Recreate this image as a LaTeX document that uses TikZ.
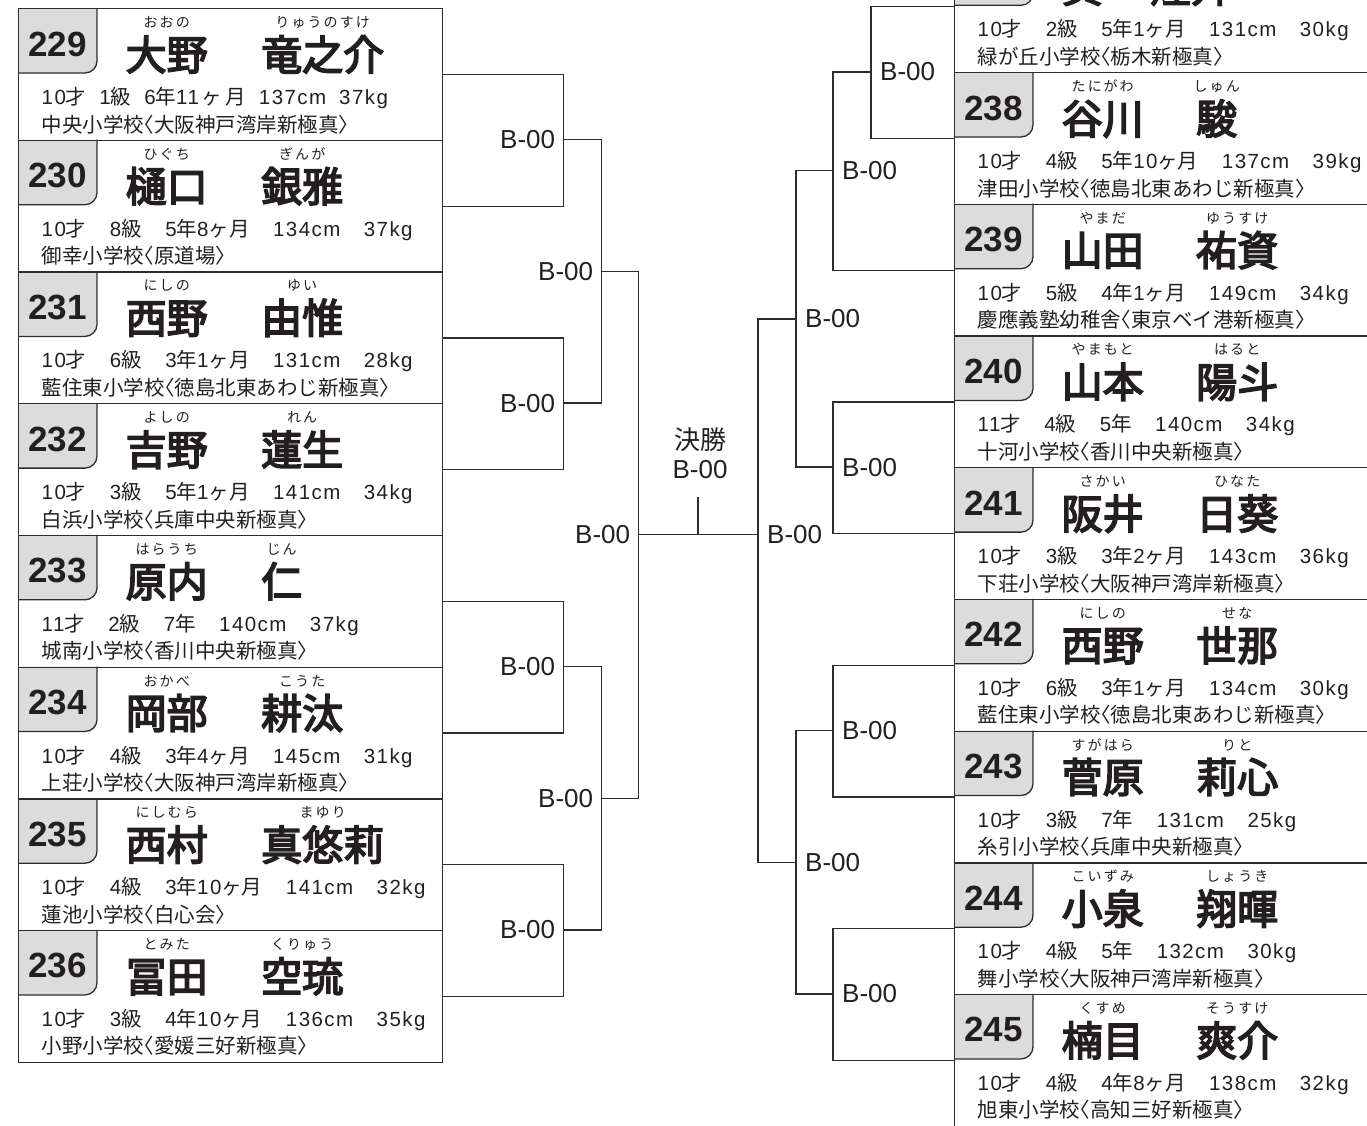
\documentclass[tikz,border=0pt]{standalone}
\usepackage{fontspec}
\setmainfont{Liberation Sans}
\newfontfamily\jpfont{Noto Sans CJK JP}
\newfontfamily\jpname{Noto Sans CJK JP}[FakeBold=4]
\newfontfamily\jpschool{Noto Sans CJK JP}[CharacterWidth=AlternateHalf]
\newfontfamily\jpruby{Noto Sans CJK JP}[LetterSpace=15]
\newfontfamily\infolatin{Liberation Sans}[LetterSpace=7]
\newcommand\cjkswitch{\jpfont}
\newcommand\latinswitch{\rmfamily}
\newcommand\gapW{\hspace{23.5pt}}
\newcommand\gapN{\hspace{13pt}}
\XeTeXinterchartokenstate=1
\newXeTeXintercharclass\cjkcls
\newcount\cjkcnt
\cjkcnt="3000
\loop\XeTeXcharclass\cjkcnt=\cjkcls\advance\cjkcnt by 1 \ifnum\cjkcnt<"A000 \repeat
\cjkcnt="FF00
\loop\XeTeXcharclass\cjkcnt=\cjkcls\advance\cjkcnt by 1 \ifnum\cjkcnt<"FFF0 \repeat
\XeTeXinterchartoks 0 \cjkcls={\cjkswitch}
\XeTeXinterchartoks 4095 \cjkcls={\cjkswitch}
\XeTeXinterchartoks \cjkcls 0={\latinswitch}
\XeTeXinterchartoks \cjkcls 4095={\latinswitch}
\definecolor{txtc}{RGB}{35,31,32}
\definecolor{linec}{RGB}{45,45,45}
\definecolor{tabg}{RGB}{220,220,220}
\tikzset{
  ln/.style={draw=linec, line width=1.3pt},
  ebox/.style={draw=linec, line width=1.3pt, rectangle, minimum width=424pt, minimum height=131.7pt, inner sep=0pt, anchor=north west},
  numtxt/.style={anchor=base, inner sep=0pt, text=txtc, font=\fontsize{35}{35}\selectfont\bfseries},
  nametxt/.style={anchor=base west, inner sep=0pt, text=txtc, font=\fontsize{41}{41}\selectfont\let\cjkswitch\jpname},
  rubytxt/.style={anchor=base, inner sep=0pt, text=txtc, font=\fontsize{14}{14}\selectfont\let\cjkswitch\jpruby},
  infotxt/.style={anchor=base west, inner sep=0pt, text=txtc, font=\fontsize{20.5}{20.5}\selectfont\let\latinswitch\infolatin\infolatin},
  schooltxt/.style={anchor=base west, inner sep=0pt, text=txtc, font=\fontsize{20.5}{20.5}\selectfont\let\cjkswitch\jpschool},
  lab/.style={inner sep=0pt, text=txtc, font=\fontsize{26}{26}\selectfont},
}
\def\gnoff{243}
\newcommand\entry[9]{%
  \fill[tabg] (#2,#3) -- (#2+79,#3) -- (#2+79,#3+53) .. controls (#2+79,#3+59.6) and (#2+73.6,#3+65) .. (#2+67,#3+65) -- (#2,#3+65) -- cycle;
  \node[ebox] (e#1) at (#2,#3) {};
  \draw[ln] (#2+79,#3) -- (#2+79,#3+53) .. controls (#2+79,#3+59.6) and (#2+73.6,#3+65) .. (#2+67,#3+65) -- (#2,#3+65);
  \node[numtxt] (n#1) at (#2+39.5,#3+48) {#1};
  \node[nametxt] (s#1) at (#2+107.5,#3+62) {#4};
  \node[nametxt] (g#1) at (#2+\gnoff,#3+62) {#5};
  \node[rubytxt] (rs#1) at ([yshift=42.5pt]s#1.base) {#6};
  \node[rubytxt] (rg#1) at ([yshift=42.5pt]g#1.base) {#7};
  \node[infotxt] (i#1) at (#2+23.5,#3+96.5) {#8};
  \node[schooltxt] (c#1) at (#2+23.5,#3+124) {#9};
}
\begin{document}
\begin{tikzpicture}[x=1pt,y=-1pt]
\useasboundingbox (0,0) rectangle (1367,1125);
\clip (0,0) rectangle (1367,1125);
% left column
\entry{229}{18}{8}{大野}{竜之介}{おおの}{りゅうのすけ}{10才\gapN 1級\gapN 6年11\hspace{3pt}ヶ\hspace{3pt}月\gapN 137cm\gapN 37kg}{中央小学校〈大阪神戸湾岸新極真〉}
\entry{230}{18}{139.7}{樋口}{銀雅}{ひぐち}{ぎんが}{10才\gapW 8級\gapW 5年8ヶ月\gapW 134cm\gapW 37kg}{御幸小学校〈原道場〉}
\entry{231}{18}{271.4}{西野}{由惟}{にしの}{ゆい}{10才\gapW 6級\gapW 3年1ヶ月\gapW 131cm\gapW 28kg}{藍住東小学校〈徳島北東あわじ新極真〉}
\entry{232}{18}{403.1}{吉野}{蓮生}{よしの}{れん}{10才\gapW 3級\gapW 5年1ヶ月\gapW 141cm\gapW 34kg}{白浜小学校〈兵庫中央新極真〉}
\entry{233}{18}{534.8}{原内}{仁}{はらうち}{じん}{11才\gapW 2級\gapW 7年\gapW 140cm\gapW 37kg}{城南小学校〈香川中央新極真〉}
\entry{234}{18}{666.5}{岡部}{耕汰}{おかべ}{こうた}{10才\gapW 4級\gapW 3年4ヶ月\gapW 145cm\gapW 31kg}{上荘小学校〈大阪神戸湾岸新極真〉}
\entry{235}{18}{798.2}{西村}{真悠莉}{にしむら}{まゆり}{10才\gapW 4級\gapW 3年10ヶ月\gapW 141cm\gapW 32kg}{蓮池小学校〈白心会〉}
\entry{236}{18}{929.9}{冨田}{空琉}{とみた}{くりゅう}{10才\gapW 3級\gapW 4年10ヶ月\gapW 136cm\gapW 35kg}{小野小学校〈愛媛三好新極真〉}
% right column
\def\gnoff{196}
\entry{237}{954}{-59.7}{黄}{煌升}{}{}{10才\gapW 2級\gapW 5年1ヶ月\gapW 131cm\gapW 30kg}{緑が丘小学校〈栃木新極真〉}
\def\gnoff{242}
\entry{238}{954}{72}{谷川}{駿}{たにがわ}{しゅん}{10才\gapW 4級\gapW 5年10ヶ月\gapW 137cm\gapW 39kg}{津田小学校〈徳島北東あわじ新極真〉}
\entry{239}{954}{203.7}{山田}{祐資}{やまだ}{ゆうすけ}{10才\gapW 5級\gapW 4年1ヶ月\gapW 149cm\gapW 34kg}{慶應義塾幼稚舎〈東京ベイ港新極真〉}
\entry{240}{954}{335.4}{山本}{陽斗}{やまもと}{はると}{11才\gapW 4級\gapW 5年\gapW 140cm\gapW 34kg}{十河小学校〈香川中央新極真〉}
\entry{241}{954}{467.1}{阪井}{日葵}{さかい}{ひなた}{10才\gapW 3級\gapW 3年2ヶ月\gapW 143cm\gapW 36kg}{下荘小学校〈大阪神戸湾岸新極真〉}
\entry{242}{954}{598.8}{西野}{世那}{にしの}{せな}{10才\gapW 6級\gapW 3年1ヶ月\gapW 134cm\gapW 30kg}{藍住東小学校〈徳島北東あわじ新極真〉}
\entry{243}{954}{730.5}{菅原}{莉心}{すがはら}{りと}{10才\gapW 3級\gapW 7年\gapW 131cm\gapW 25kg}{糸引小学校〈兵庫中央新極真〉}
\entry{244}{954}{862.2}{小泉}{翔暉}{こいずみ}{しょうき}{10才\gapW 4級\gapW 5年\gapW 132cm\gapW 30kg}{舞小学校〈大阪神戸湾岸新極真〉}
\entry{245}{954}{993.9}{楠目}{爽介}{くすめ}{そうすけ}{10才\gapW 4級\gapW 4年8ヶ月\gapW 138cm\gapW 32kg}{旭東小学校〈高知三好新極真〉}
% left bracket
\coordinate (L1a) at (563.3,139.7);
\coordinate (L1b) at (563.3,403.1);
\coordinate (L1c) at (563.3,666.5);
\coordinate (L1d) at (563.3,929.9);
\coordinate (L2a) at (601.3,271.4);
\coordinate (L2b) at (601.3,798.2);
\coordinate (L3) at (638.3,534.8);
\draw[ln] (e229.east) -| (L1a) |- (e230.east);
\draw[ln] (e231.east) -| (L1b) |- (e232.east);
\draw[ln] (e233.east) -| (L1c) |- (e234.east);
\draw[ln] (e235.east) -| (L1d) |- (e236.east);
\draw[ln] (L1a) -| (L2a) |- (L1b);
\draw[ln] (L1c) -| (L2b) |- (L1d);
\draw[ln] (L2a) -| (L3) |- (L2b);
\node[lab, anchor=east] (bL1a) at ([xshift=-8pt]L1a) {B-00};
\node[lab, anchor=east] (bL1b) at ([xshift=-8pt]L1b) {B-00};
\node[lab, anchor=east] (bL1c) at ([xshift=-8pt]L1c) {B-00};
\node[lab, anchor=east] (bL1d) at ([xshift=-8pt]L1d) {B-00};
\node[lab, anchor=east] (bL2a) at ([xshift=-8pt]L2a) {B-00};
\node[lab, anchor=east] (bL2b) at ([xshift=-8pt]L2b) {B-00};
\node[lab, anchor=east] (bL3) at ([xshift=-8pt]L3) {B-00};
% right bracket
\coordinate (R1a) at (871,72);
\coordinate (R2a) at (833,170.8);
\coordinate (R2b) at (833,467.1);
\coordinate (R2c) at (833,730.5);
\coordinate (R2d) at (833,993.9);
\coordinate (R3a) at (796,319);
\coordinate (R3b) at (796,862.2);
\coordinate (R4) at (758,534.8);
\draw[ln] (e237.west) -| (R1a) |- (e238.west);
\draw[ln] (R1a) -| (R2a) |- (e239.west);
\draw[ln] (e240.west) -| (R2b) |- (e241.west);
\draw[ln] (e242.west) -| (R2c) |- (e243.west);
\draw[ln] (e244.west) -| (R2d) |- (e245.west);
\draw[ln] (R2a) -| (R3a) |- (R2b);
\draw[ln] (R2c) -| (R3b) |- (R2d);
\draw[ln] (R3a) -| (R4) |- (R3b);
\node[lab, anchor=west] (bR1a) at ([xshift=9pt]R1a) {B-00};
\node[lab, anchor=west] (bR2a) at ([xshift=9pt]R2a) {B-00};
\node[lab, anchor=west] (bR2b) at ([xshift=9pt]R2b) {B-00};
\node[lab, anchor=west] (bR2c) at ([xshift=9pt]R2c) {B-00};
\node[lab, anchor=west] (bR2d) at ([xshift=9pt]R2d) {B-00};
\node[lab, anchor=west] (bR3a) at ([xshift=9pt]R3a) {B-00};
\node[lab, anchor=west] (bR3b) at ([xshift=9pt]R3b) {B-00};
\node[lab, anchor=west] (bR4) at ([xshift=9pt]R4) {B-00};
% final
\draw[ln] (L3) -- (R4);
\coordinate (F) at (698,534.8);
\coordinate (Ft) at (698,497);
\draw[ln] (Ft) -- (F);
\node[lab] (fl1) at (700,440) {決勝};
\node[lab] (fl2) at (700,470) {B-00};
\end{tikzpicture}
\end{document}
